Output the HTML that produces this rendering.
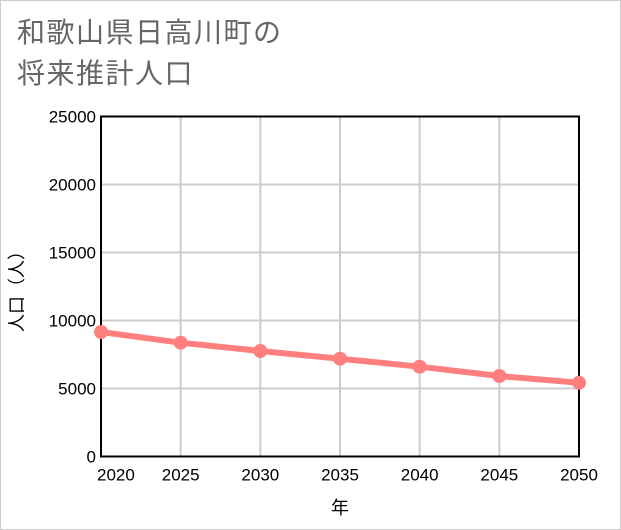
<!DOCTYPE html>
<html><head><meta charset="utf-8"><style>
body{margin:0;background:#fff}
#wrap{position:relative;width:619px;height:528px;border:1px solid #ccc;background:#fff;font-family:"Liberation Sans","Noto Sans CJK JP",sans-serif}
.t{position:absolute;left:16px;font-size:28px;color:#666;letter-spacing:1.5px;line-height:1}
</style></head><body>
<div id="wrap">
<div class="t" style="top:18px">和歌山県日高川町の</div>
<div class="t" style="top:59px">将来推計人口</div>
<svg id="svg" width="619" height="528" style="position:absolute;left:0;top:0"></svg>
</div>
<script>
const years=[2020,2025,2030,2035,2040,2045,2050];
const population=[9154,8368,7757,7191,6603,5919,5426];
const yTicks=[0,5000,10000,15000,20000,25000];
const L=100,R=578,T=115.5,B=455.5;
const xs=v=>L+(v-2020)/30*(R-L);
const ys=v=>B-v/25000*(B-T);
const svg=document.getElementById('svg');
const NS='http://www.w3.org/2000/svg';
function mk(tag,attrs,name){const e=document.createElementNS(NS,tag);for(const k in attrs)e.setAttribute(k,attrs[k]);


svg.appendChild(e);return e;}
years.forEach((y,i)=>{mk('line',{x1:xs(y),x2:xs(y),y1:T,y2:B,stroke:'#ccc','stroke-width':2},'x-gridline');
const first=i===0;
const t=mk('text',{x:first?xs(y)-4:xs(y),y:B+24,'text-anchor':first?'start':'middle','font-size':17,fill:'#000'},'x-tick-label');t.textContent=y;});
yTicks.forEach(v=>{mk('line',{x1:L,x2:R,y1:ys(v),y2:ys(v),stroke:'#ccc','stroke-width':2},'y-gridline');
const t=mk('text',{x:L-5,y:ys(v)+6,'text-anchor':'end','font-size':17,fill:'#000'},'y-tick-label');t.textContent=v;});
mk('rect',{x:L,y:T,width:R-L,height:B-T,fill:'none',stroke:'#000','stroke-width':2},'plot-frame');
mk('polyline',{points:years.map((y,i)=>xs(y)+','+ys(population[i])).join(' '),fill:'none',stroke:'#ff7f7f','stroke-width':6},'population-line');
years.forEach((y,i)=>mk('circle',{cx:xs(y),cy:ys(population[i]),r:7,fill:'#ff7f7f'},'population-point'));
const xt=mk('text',{x:(L+R)/2,y:513,'text-anchor':'middle','font-size':18,fill:'#000'},'x-axis-title');xt.textContent='年';
const yt=mk('text',{x:0,y:0,'text-anchor':'middle','font-size':18,fill:'#000',transform:'translate(22,286) rotate(-90)'},'y-axis-title');yt.textContent='人口（人）';
</script>
</body></html>
